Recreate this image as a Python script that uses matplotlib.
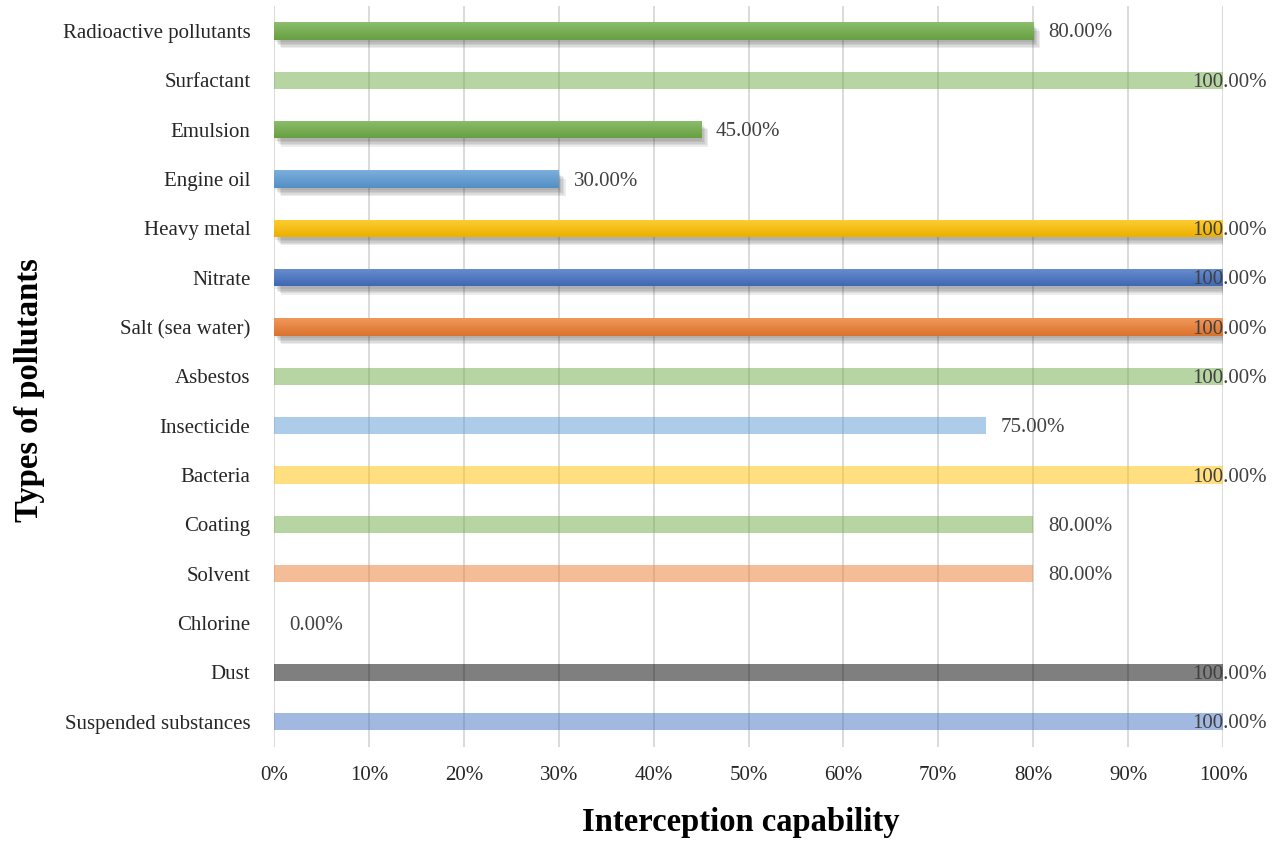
import matplotlib
matplotlib.use("Agg")
import matplotlib.pyplot as plt
import matplotlib.patheffects as pe
import numpy as np
from matplotlib.colors import to_rgb

plt.rcParams["font.family"] = ["Liberation Serif", "DejaVu Serif"]

# bottom to top, as drawn on the y axis
pollutants = [
    "Suspended substances", "Dust", "Chlorine", "Solvent", "Coating",
    "Bacteria", "Insecticide", "Asbestos", "Salt (sea water)", "Nitrate",
    "Heavy metal", "Engine oil", "Emulsion", "Surfactant", "Radioactive pollutants",
]
capability = [100, 100, 0, 80, 80, 100, 75, 100, 100, 100, 100, 30, 45, 100, 80]
bar_colors = [
    "#4472c4", "#000000", "#a5a5a5", "#ed7d31", "#70ad47",
    "#ffc000", "#5b9bd5", "#70ad47", "#ed7d31", "#4472c4",
    "#ffc000", "#5b9bd5", "#70ad47", "#70ad47", "#70ad47",
]
# True -> solid gradient bar with shadow, False -> flat half transparent bar
gradient = [False, False, False, False, False, False, False, False,
            True, True, True, True, True, False, True]

fig = plt.figure(figsize=(12.79, 8.42), dpi=100)
ax = fig.add_axes([274 / 1279, 1 - 746.5 / 842, (1223 - 274) / 1279, (746.5 - 6.3) / 842])

y = np.arange(len(pollutants))
h = 0.35

# soft shadow: a few offset copies with low alpha
shadow = [pe.SimplePatchShadow(offset=(o, -o - 1), shadow_rgbFace="0.2", alpha=0.09)
          for o in (1, 2, 3, 4, 5)]

for i, (val, col, grad) in enumerate(zip(capability, bar_colors, gradient)):
    if val == 0:
        continue
    if grad:
        bar = ax.barh(y[i], val, height=h, color=col, zorder=3,
                      path_effects=shadow + [pe.Normal()])[0]
        # vertical gradient, lighter at the top
        c = np.array(to_rgb(col))
        t = np.linspace(0, 1, 32)[:, None]
        light = c + (1 - c) * 0.2
        dark = c * 0.92
        img = (light * (1 - t) + dark * t)[:, None, :]
        im = ax.imshow(img, extent=(0, val, y[i] - h / 2, y[i] + h / 2),
                       aspect="auto", zorder=4, interpolation="bilinear")
        im.set_clip_path(bar)
    else:
        ax.barh(y[i], val, height=h, color=col, alpha=0.5, zorder=1, linewidth=0)

for i, val in enumerate(capability):
    if val >= 100:
        ax.annotate(f"{val:.2f}%", (100, y[i]), xytext=(44, -2), textcoords="offset pixels",
                    ha="right", va="center", fontsize=15, color="#404040", zorder=6,
                    annotation_clip=False)
    else:
        ax.annotate(f"{val:.2f}%", (val, y[i]), xytext=(15, -2), textcoords="offset pixels",
                    ha="left", va="center", fontsize=15, color="#404040", zorder=6)

ax.set_xlim(0, 100)
ax.set_ylim(-0.5, len(pollutants) - 0.5)
ax.set_aspect("auto")
ax.set_xticks(np.arange(0, 101, 10))
ax.set_xticklabels([f"{v}%" for v in range(0, 101, 10)])
ax.set_yticks(y)
ax.set_yticklabels(pollutants)
ax.tick_params(axis="both", length=0, labelsize=15, labelcolor="#262626")
ax.tick_params(axis="x", pad=14)
ax.tick_params(axis="y", pad=17)
ax.grid(axis="x", color="#d4d4d4", linewidth=1.2, zorder=0)
ax.set_axisbelow(True)
for s in ax.spines.values():
    s.set_visible(False)

fig.text(741 / 1279, 1 - 823 / 842, "Interception capability", ha="center", va="center",
         fontsize=23.5, fontweight="bold")
fig.text(30 / 1279, 1 - 390 / 842, "Types of pollutants", ha="center", va="center",
         rotation=90, fontsize=23.5, fontweight="bold")

fig.savefig("out.png", dpi=100)
